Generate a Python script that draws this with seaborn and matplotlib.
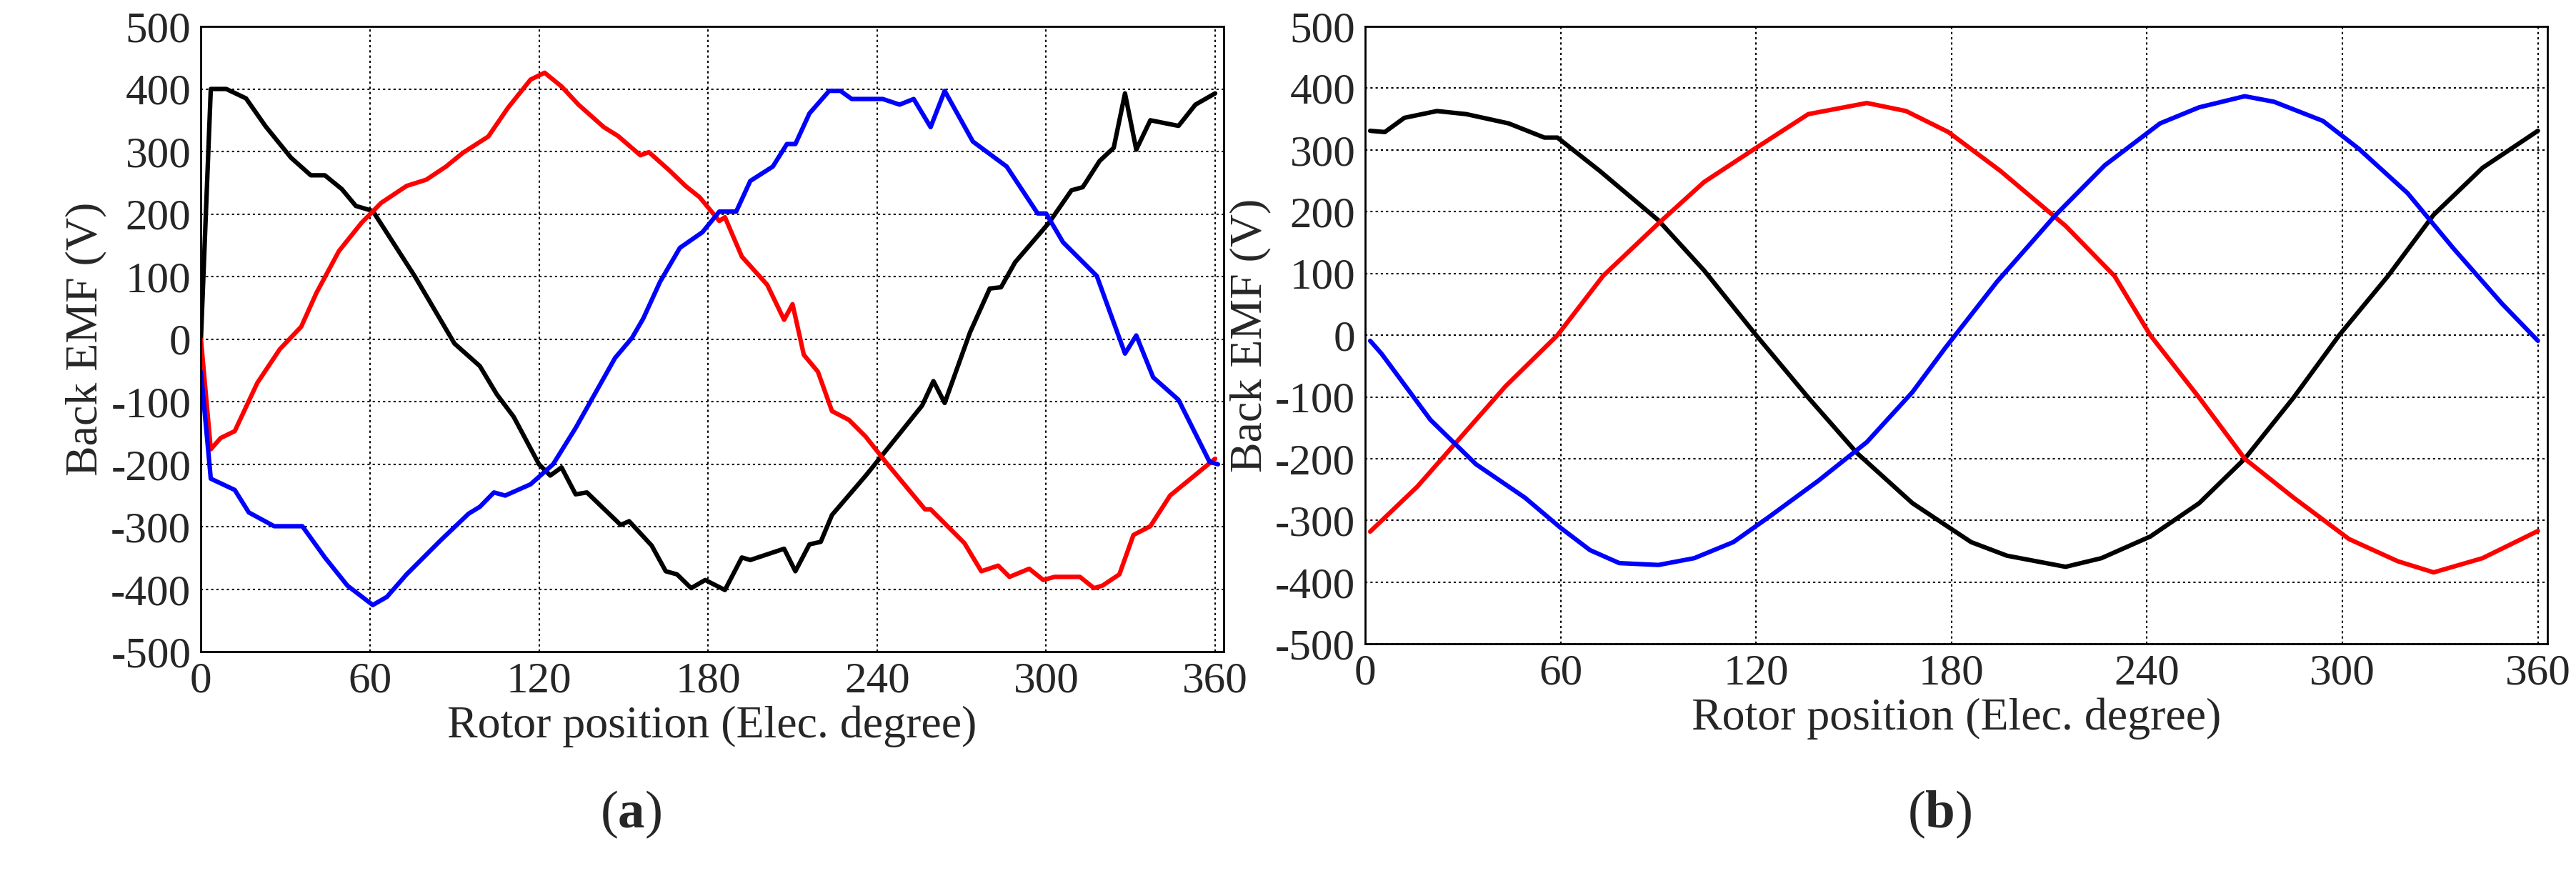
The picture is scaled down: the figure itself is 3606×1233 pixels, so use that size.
import numpy as np
import matplotlib
matplotlib.use("Agg")
import matplotlib.pyplot as plt
import seaborn as sns
import pandas as pd

sns.set_theme(style="white")
plt.rcParams['font.family'] = ['Liberation Serif', 'DejaVu Serif']
plt.rcParams['mathtext.fontset'] = 'custom'
plt.rcParams['mathtext.bf'] = 'Liberation Serif:bold'
plt.rcParams['axes.unicode_minus'] = False

# Panel (a)
a_black_x = [0,3.5,9,16,23,32,39,44,50,55,61,76,90,99,105,111,120,124,128,133,137,149,152,160,165,169,174,179,186,192,195,207,211,216,220,224,236,248,256,260,264,273,280,284,289,301,309,313,319,324,328,332,337,347,353,360]
a_black_y = [0,400,400,385,340,290,262,262,240,213,205,100,-7,-43,-88,-124,-200,-218,-205,-248,-245,-297,-291,-330,-371,-376,-398,-385,-401,-349,-353,-335,-371,-328,-324,-281,-218,-151,-106,-67,-102,11,81,83,123,186,238,243,285,306,393,303,350,341,375,393]
a_red_x = [0,3.5,7,12,20,28,35.6,41,49,57,64,73,80,87,93,102,109,117,122,128,134,143,148,156,159,166,172,177,184,186,192,201,207,210,214,219,224,230,236,243,257,259,265,271,277,283,287,294,299,303,312,317,320,326,331,337,344,360]
a_red_y = [0,-176,-158,-147,-70,-16,20,74,141,186,218,245,255,276,298,324,370,415,426,404,375,339,325,294,299,271,245,227,189,195,132,87,31,56,-25,-52,-115,-129,-156,-196,-272,-272,-299,-326,-371,-362,-380,-367,-385,-380,-380,-398,-394,-376,-313,-299,-250,-191]
a_blue_x = [0,3.5,12,17,26,36,44,52,61,66,73,85,95,99,104,108,117,125,133,138,147,153,157,163,170,178,184,190,195,203,208,211,216,223,227,231,242,248,253,259,264,274,286,297,300,306,318,328,332,338,347,358,361]
a_blue_y = [-52,-223,-241,-277,-299,-299,-349,-394,-425,-412,-376,-322,-279,-268,-245,-250,-232,-200,-142,-102,-30,2,33,92,146,171,204,204,253,276,312,312,361,397,397,384,384,375,384,339,397,316,276,201,201,155,101,-23,6,-61,-97,-196,-200]

# Panel (b)
b_black_x = [1.5,6,12,22,31,44,55,59,72,90,104,120,136,151,168,186,197,215,226,241,256,270,285,299,314,328,343,360]
b_black_y = [331,329,352,363,358,343,320,320,266,186,105,0,-101,-191,-272,-335,-357,-375,-361,-326,-272,-200,-101,0,96,195,271,331]
b_red_x = [1.5,16,28,43,59,73,90,104,119,136,154,166,179,195,215,230,241,256,270,285,302,317,328,343,360]
b_red_y = [-318,-245,-173,-83,0,96,181,248,300,358,376,363,329,266,177,96,0,-101,-200,-263,-330,-366,-384,-361,-317]
b_blue_x = [1.5,5,20,34,49,60,69,78,90,101,113,124,139,154,168,178,194,212,227,244,256,270,279,294,305,320,334,349,360]
b_blue_y = [-9,-30,-137,-209,-263,-312,-348,-369,-372,-361,-335,-294,-236,-173,-92,-21,87,195,275,343,369,387,378,347,302,230,141,51,-9]

xticks = [0, 60, 120, 180, 240, 300, 360]
yticks = list(range(-500, 501, 100))

fig = plt.figure(figsize=(36.06, 12.33), dpi=100)
axA = fig.add_axes([0.078, 0.260, 0.397, 0.710])
axB = fig.add_axes([0.530, 0.269, 0.459, 0.701])

panels = [
    (axA, [(a_black_x, a_black_y, 'black'), (a_red_x, a_red_y, 'red'), (a_blue_x, a_blue_y, 'blue')], 0.245, 'a'),
    (axB, [(b_black_x, b_black_y, 'black'), (b_red_x, b_red_y, 'red'), (b_blue_x, b_blue_y, 'blue')], 0.753, 'b'),
]
for ax, series, cx, letter in panels:
    for xs, ys, c in series:
        df = pd.DataFrame({'x': xs, 'y': ys})
        sns.lineplot(data=df, x='x', y='y', ax=ax, color=c, lw=4.5, sort=False, estimator=None)
    ax.set_xlim(0, 363)
    ax.set_ylim(-500, 500)
    ax.set_xticks(xticks)
    ax.set_yticks(yticks)
    ax.tick_params(labelsize=44, length=0, pad=10)
    ax.grid(True, color='black', linestyle=(0, (1.5, 2)), linewidth=1.5)
    for s in ax.spines.values():
        s.set_color('black'); s.set_linewidth(2)
    ax.set_xlabel('Rotor position (Elec. degree)', fontsize=46, labelpad=4)
    ax.set_ylabel('Back EMF (V)', fontsize=46, labelpad=4)
    fig.text(cx, 0.075, '(' + r'$\mathbf{' + letter + '}$' + ')', fontsize=54, ha='center', va='center')

fig.savefig('out.png', dpi=100)
